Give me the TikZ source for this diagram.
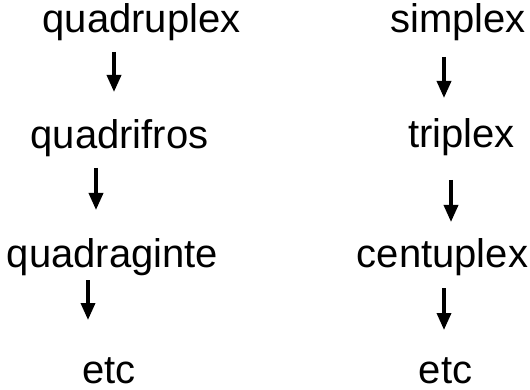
\documentclass[tikz,border=0pt]{standalone}
\usepackage{fontspec}
\setmainfont{Liberation Sans}
\usetikzlibrary{arrows.meta}
\tikzset{
	word/.style={anchor=base, inner sep=0pt, font=\fontsize{40}{48}\selectfont},
	arr/.style={line width=3.5pt, -{Triangle[length=17pt,width=14pt]}}
}
\begin{document}
\begin{tikzpicture}[x=1pt,y=-1pt]
		\useasboundingbox (0,0) rectangle (530,390);

		\node [word] (quadruplex) at (141.5,33) {quadruplex};
		\node [word] (quadrifros) at (119.5,149) {quadrifros};
		\node [word] (quadraginte) at (112.5,267) {quadraginte};
		\node [word] (etc_l) at (109,383) {etc};

		\node [word] (simplex) at (458,33) {simplex};
		\node [word] (triplex) at (461.5,148) {triplex};
		\node [word] (centuplex) at (442.5,267) {centuplex};
		\node [word] (etc_r) at (445.5,383) {etc};

		\coordinate (l_0) at (114,52);
		\coordinate (l_1) at (114,92);
		\coordinate (l_2) at (96,168);
		\coordinate (l_3) at (96,210);
		\coordinate (l_4) at (88,280);
		\coordinate (l_5) at (88,320);

		\coordinate (r_0) at (444,57);
		\coordinate (r_1) at (444,98);
		\coordinate (r_2) at (451,180);
		\coordinate (r_3) at (451,222);
		\coordinate (r_4) at (444,288);
		\coordinate (r_5) at (444,330);

		\draw [arr] (l_0)--(l_1);
		\draw [arr] (l_2)--(l_3);
		\draw [arr] (l_4)--(l_5);
		\draw [arr] (r_0)--(r_1);
		\draw [arr] (r_2)--(r_3);
		\draw [arr] (r_4)--(r_5);

	\end{tikzpicture}
\end{document}
